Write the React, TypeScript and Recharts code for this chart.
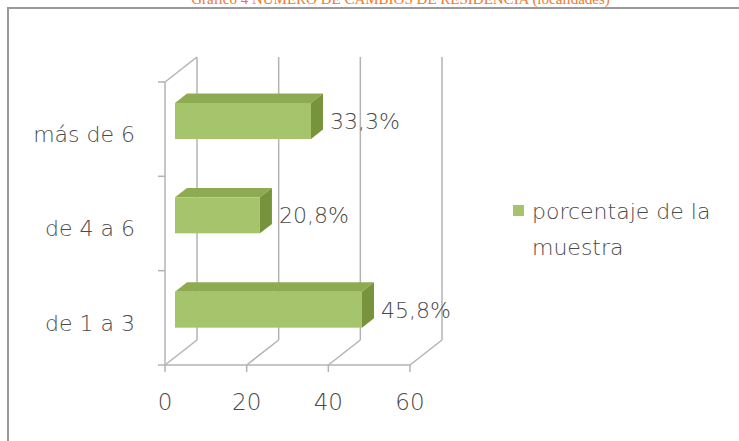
import { BarChart, Bar, XAxis, YAxis, CartesianGrid, Legend, LabelList } from 'recharts';

const categories = ['más de 6', 'de 4 a 6', 'de 1 a 3'];
const percentages = [33.3, 20.8, 45.8];
const xTicks = [0, 20, 40, 60];
const seriesName = 'porcentaje de la muestra';

const data = categories.map((c, i) => ({ name: c, value: percentages[i] }));

// 3D depth of the whole plot (front plane -> back wall) and of the bars
const DX = 32;
const DY = -25;
const BAR_OFF_X = 10;
const BAR_OFF_Y = -8;
const BAR_DX = 12;
const BAR_DY = -9.4;

const FONT = '"DejaVu Sans", "Noto Sans", sans-serif';
const TEXT = '#4a4a4a';
const GRID = '#b3b3b3';

function Bar3D(props: any) {
  const { x, y, width, height } = props;
  const fx = x + BAR_OFF_X;
  const fy = y + BAR_OFF_Y;
  return (
    <g>
      <polygon
        points={`${fx},${fy} ${fx + BAR_DX},${fy + BAR_DY} ${fx + width + BAR_DX},${fy + BAR_DY} ${fx + width},${fy}`}
        fill="#8fab52"
      />
      <polygon
        points={`${fx + width},${fy} ${fx + width + BAR_DX},${fy + BAR_DY} ${fx + width + BAR_DX},${fy + height + BAR_DY} ${fx + width},${fy + height}`}
        fill="#77933c"
      />
      <rect x={fx} y={fy} width={width} height={height} fill="#a6c46b" />
    </g>
  );
}

function GridLine3D(props: any) {
  const { x1, y1, y2, index } = props;
  // category boundary ticks on the front y axis (band edges)
  const bandTicks = categories.map((_, i) => y1 + ((y2 - y1) * i) / categories.length).concat(y2);
  return (
    <g>
      <line x1={x1 + DX} y1={y1 + DY} x2={x1 + DX} y2={y2 + DY} stroke={GRID} strokeWidth={1.5} />
      <line x1={x1} y1={y2} x2={x1 + DX} y2={y2 + DY} stroke={GRID} strokeWidth={1.5} />
      {index === 0 && (
        <>
          <line x1={x1} y1={y1} x2={x1 + DX} y2={y1 + DY} stroke={GRID} strokeWidth={1.5} />
          {bandTicks.map((ty, i) => (
            <line key={i} x1={x1 - 7} y1={ty} x2={x1} y2={ty} stroke={GRID} strokeWidth={1.5} />
          ))}
        </>
      )}
    </g>
  );
}

function ValueLabel(props: any) {
  const { x, y, width, height, value } = props;
  return (
    <text
      x={x + width + BAR_OFF_X + BAR_DX + 7}
      y={y + BAR_OFF_Y + height / 2 + 2}
      fill={TEXT}
      fontSize={22}
      fontFamily={FONT}
      fontWeight={200}
      dominantBaseline="middle"
    >
      {`${String(value).replace('.', ',')}%`}
    </text>
  );
}

function LegendBox() {
  return (
    <div style={{ display: 'flex', alignItems: 'flex-start', fontFamily: FONT, fontWeight: 200, fontSize: 22, color: TEXT, lineHeight: '36px' }}>
      <span style={{ width: 11, height: 11, background: '#a6c46b', marginTop: 11, marginRight: 8, flex: 'none' }} />
      <span style={{ width: 190 }}>{seriesName}</span>
    </div>
  );
}

export default function App() {
  return (
    <div style={{ position: 'absolute', left: 0, top: 0, width: 739, height: 441, overflow: 'hidden', background: '#fff' }}>
      <div
        style={{
          position: 'absolute',
          left: 0,
          width: 739,
          top: -9,
          textAlign: 'center',
          paddingLeft: 62,
          boxSizing: 'border-box',
          color: '#f07a2a',
          fontFamily: '"Liberation Serif", "DejaVu Serif", serif',
          fontSize: 15,
          whiteSpace: 'nowrap',
        }}
      >
        Gráfico 4 NÚMERO DE CAMBIOS DE RESIDENCIA (localidades)
      </div>
      <div style={{ position: 'absolute', left: 7, top: 7, width: 740, height: 440, borderLeft: '2px solid #9a9a9a', borderTop: '2px solid #9a9a9a' }} />
      <div style={{ position: 'absolute', left: 0, top: 0 }}>
        <BarChart
          width={739}
          height={441}
          data={data}
          layout="vertical"
          margin={{ top: 82, right: 329, bottom: 0, left: 5 }}
          barSize={36}
        >
          <CartesianGrid horizontal={false} vertical={GridLine3D} />
          <XAxis
            type="number"
            domain={[0, 60]}
            ticks={xTicks}
            height={76}
            axisLine={{ stroke: GRID, strokeWidth: 1.5 }}
            tickLine={{ stroke: GRID, strokeWidth: 1.5 }}
            tickSize={7}
            tickMargin={22}
            tick={{ fill: TEXT, fontSize: 23, fontFamily: FONT, fontWeight: 200 }}
          />
          <YAxis
            type="category"
            dataKey="name"
            width={160}
            axisLine={{ stroke: GRID, strokeWidth: 1.5 }}
            tickLine={false}
            tick={{ fill: TEXT, fontSize: 22, fontFamily: FONT, fontWeight: 200, dy: 5 }}
            tickMargin={24}
          />
          <Legend
            layout="horizontal"
            verticalAlign="middle"
            content={<LegendBox />}
            wrapperStyle={{ position: 'absolute', left: 513, top: 194, width: 220 }}
          />
          <Bar dataKey="value" name={seriesName} shape={<Bar3D />} isAnimationActive={false}>
            <LabelList dataKey="value" content={<ValueLabel />} />
          </Bar>
        </BarChart>
      </div>
    </div>
  );
}
